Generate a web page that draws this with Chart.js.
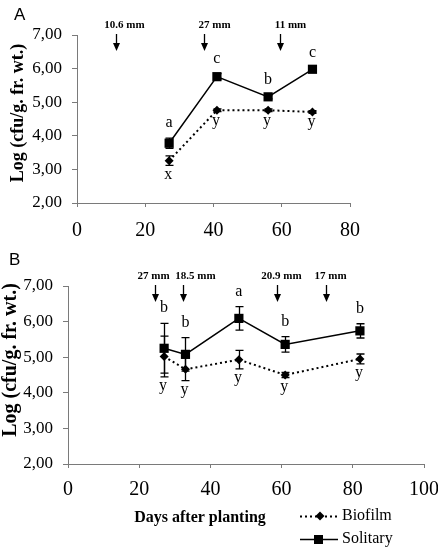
<!DOCTYPE html>
<html><head><meta charset="utf-8">
<script src="https://cdn.jsdelivr.net/npm/chart.js@4/dist/chart.umd.min.js"></script>
<style>
html,body{margin:0;padding:0;background:#fff;}
#wrap{position:relative;width:438px;height:550px;overflow:hidden;background:#fff;}
canvas{position:absolute;left:0;}
</style></head><body>
<div id="wrap">
<canvas id="cA" width="438" height="250" style="top:0px"></canvas>
<canvas id="cB" width="438" height="300" style="top:250px"></canvas>
</div>
<script>
// ---------- Panel A data ----------
const daysA = [27, 41, 56, 69];
const solitaryA = [3.78, 5.76, 5.16, 5.98];
const solitaryErrA = [0.15, 0.09, 0.06, 0.05];
const biofilmA = [3.26, 4.76, 4.76, 4.71];
const biofilmErrA = [0.14, 0.04, 0.04, 0.04];
const lettersSolA = ['a', 'c', 'b', 'c'];
const lettersBioA = ['x', 'y', 'y', 'y'];
const arrowDaysA = [11.4, 37.3, 59.5];
const arrowLabelsA = ['10.6 mm', '27 mm', '11 mm'];
const xTicksA = [0, 20, 40, 60, 80];

// ---------- Panel B data ----------
const daysB = [27, 33, 48, 61, 82];
const solitaryB = [5.25, 5.08, 6.09, 5.36, 5.74];
const solitaryErrB = [0.70, 0.47, 0.33, 0.22, 0.20];
const biofilmB = [5.02, 4.66, 4.93, 4.50, 4.95];
const biofilmErrB = [0.57, 0.32, 0.26, 0.07, 0.14];
const lettersSolB = ['b', 'b', 'a', 'b', 'b'];
const lettersBioB = ['y', 'y', 'y', 'y', 'y'];
const arrowDaysB = [24.4, 32.2, 58.6, 72.5];
const arrowLabelsB = ['27 mm', '18.5 mm', '20.9 mm', '17 mm'];
const xTicksB = [0, 20, 40, 60, 80, 100];

// ---------- shared ----------
const yTickValues = [2, 3, 4, 5, 6, 7];
const yTickLabels = ['2,00', '3,00', '4,00', '5,00', '6,00', '7,00'];
const seriesNames = ['Biofilm', 'Solitary'];
const yTitle = 'Log (cfu/g. fr. wt.)';
const xTitle = 'Days after planting';

const SERIF = "'Liberation Serif','Times New Roman',serif";
const SANS = "'Liberation Sans',Arial,sans-serif";
const AXIS = '#7a7a7a';

const pts = (xs, ys) => xs.map((x, i) => ({x: x, y: ys[i]}));

const decor = {
  id: 'decor',
  beforeDatasetsDraw(chart, args, o) {
    const ctx = chart.ctx, xs = chart.scales.x, ys = chart.scales.y;
    ctx.save();
    ctx.strokeStyle = '#000';
    ctx.lineWidth = 1.3;
    o.err.forEach(e => {
      e.days.forEach((d, i) => {
        const px = Math.round(xs.getPixelForValue(d)) + 0.5;
        const t = ys.getPixelForValue(e.vals[i] + e.errs[i]);
        const b = ys.getPixelForValue(e.vals[i] - e.errs[i]);
        ctx.beginPath();
        ctx.moveTo(px, t); ctx.lineTo(px, b);
        ctx.moveTo(px - 4, t); ctx.lineTo(px + 4, t);
        ctx.moveTo(px - 4, b); ctx.lineTo(px + 4, b);
        ctx.stroke();
      });
    });
    ctx.restore();
  },
  afterDraw(chart, args, o) {
    const ctx = chart.ctx, xs = chart.scales.x, ys = chart.scales.y, area = chart.chartArea;
    ctx.save();
    ctx.fillStyle = '#000';
    ctx.strokeStyle = '#000';
    // significance letters
    ctx.font = '16px ' + SERIF;
    ctx.textAlign = 'center';
    o.above.days.forEach((d, i) => {
      const px = xs.getPixelForValue(d);
      const t = ys.getPixelForValue(o.above.vals[i] + o.above.errs[i]);
      ctx.textBaseline = 'alphabetic';
      ctx.fillText(o.above.letters[i], px, t - 11);
    });
    o.below.days.forEach((d, i) => {
      const px = xs.getPixelForValue(d);
      const b = ys.getPixelForValue(o.below.vals[i] - o.below.errs[i]);
      ctx.textBaseline = 'top';
      ctx.fillText(o.below.letters[i], px - 1, b + 1);
    });
    // arrows (irrigation events)
    o.arrows.days.forEach((d, i) => {
      const px = Math.round(xs.getPixelForValue(d)) + 0.5;
      const top = area.top - 1;
      ctx.lineWidth = 1.3;
      ctx.beginPath();
      ctx.moveTo(px, top); ctx.lineTo(px, top + 10); ctx.stroke();
      ctx.beginPath();
      ctx.moveTo(px - 3.5, top + 9); ctx.lineTo(px + 3.5, top + 9); ctx.lineTo(px, top + 17); ctx.closePath();
      ctx.fill();
      ctx.font = 'bold 11px ' + SERIF;
      ctx.textBaseline = 'middle';
      ctx.textAlign = 'center';
      ctx.fillText(o.arrows.labels[i], px + o.arrows.shift[i], area.top - 10);
    });
    // y title
    ctx.save();
    ctx.translate(o.yTitle.x, o.yTitle.y);
    ctx.rotate(-Math.PI / 2);
    ctx.font = 'bold ' + o.yTitle.size + 'px ' + SERIF;
    ctx.textAlign = 'center';
    ctx.textBaseline = 'middle';
    ctx.fillText(yTitle, 0, 0);
    ctx.restore();
    // panel letter
    ctx.font = o.panel.size + 'px ' + SANS;
    ctx.textAlign = 'left';
    ctx.textBaseline = 'alphabetic';
    ctx.fillText(o.panel.text, o.panel.x, o.panel.y);
    // x title and legend
    if (o.legend) {
      ctx.font = 'bold 16px ' + SERIF;
      ctx.textAlign = 'center';
      ctx.textBaseline = 'middle';
      ctx.fillText(xTitle, 200, 268);
      const dsets = chart.data.datasets;
      const rows = [266, 289];
      dsets.forEach((ds, i) => {
        const y = rows[i];
        ctx.save();
        ctx.strokeStyle = '#000';
        ctx.lineWidth = ds.borderWidth;
        ctx.setLineDash(ds.borderDash || []);
        ctx.beginPath(); ctx.moveTo(300, y + 0.5); ctx.lineTo(338, y + 0.5); ctx.stroke();
        ctx.setLineDash([]);
        ctx.fillStyle = '#000';
        if (ds.pointStyle === 'rectRot') {
          ctx.beginPath();
          ctx.moveTo(320, y - 4.5); ctx.lineTo(324.5, y); ctx.lineTo(320, y + 4.5); ctx.lineTo(315.5, y); ctx.closePath(); ctx.fill();
        } else {
          ctx.fillRect(314, y - 4, 9, 9);
        }
        ctx.font = '16px ' + SERIF;
        ctx.textAlign = 'left';
        ctx.textBaseline = 'middle';
        ctx.fillText(ds.label, 342, y);
        ctx.restore();
      });
    }
    ctx.restore();
  }
};

function makePanel(id, cfg) {
  return new Chart(document.getElementById(id), {
    type: 'line',
    data: {
      datasets: [
        {label: seriesNames[0], data: pts(cfg.days, cfg.bio), borderColor: '#000', backgroundColor: '#000',
         borderWidth: 2, borderDash: [2, 3], pointStyle: 'rectRot', pointRadius: 4.5, pointBorderWidth: 0, tension: 0},
        {label: seriesNames[1], data: pts(cfg.days, cfg.sol), borderColor: '#000', backgroundColor: '#000',
         borderWidth: 1.5, pointStyle: 'rect', pointRadius: 6.5, pointBorderWidth: 0, tension: 0}
      ]
    },
    options: {
      responsive: false,
      animation: false,
      devicePixelRatio: 1,
      layout: {padding: cfg.padding},
      plugins: {
        legend: {display: false},
        tooltip: {enabled: false},
        decor: {
          err: [{days: cfg.days, vals: cfg.bio, errs: cfg.bioErr}, {days: cfg.days, vals: cfg.sol, errs: cfg.solErr}],
          above: {days: cfg.days, vals: cfg.sol, errs: cfg.solErr, letters: cfg.lSol},
          below: {days: cfg.days, vals: cfg.bio, errs: cfg.bioErr, letters: cfg.lBio},
          arrows: {days: cfg.arrowDays, labels: cfg.arrowLabels, shift: cfg.labelShift},
          yTitle: cfg.yTitle,
          panel: cfg.panel,
          legend: cfg.legend
        }
      },
      scales: {
        x: {
          type: 'linear', min: cfg.xTicks[0], max: cfg.xTicks[cfg.xTicks.length - 1],
          afterBuildTicks: s => { s.ticks = cfg.xTicks.map(v => ({value: v})); },
          afterFit: s => { s.height = cfg.xH; s.paddingLeft = 0; s.paddingRight = 0; },
          ticks: {font: {family: SERIF, size: 20}, color: '#000', padding: cfg.xPad, maxRotation: 0, autoSkip: false},
          grid: {display: true, drawOnChartArea: false, drawTicks: true, tickLength: 4, color: AXIS},
          border: {display: true, color: AXIS, width: 1}
        },
        y: {
          type: 'linear', min: 2, max: 7,
          afterBuildTicks: s => { s.ticks = yTickValues.map(v => ({value: v})); },
          afterFit: s => { s.width = cfg.yW; s.paddingTop = 0; s.paddingBottom = 0; },
          ticks: {font: {family: SERIF, size: 17}, color: '#000', padding: 10,
                  callback: v => yTickLabels[yTickValues.indexOf(v)]},
          grid: {display: true, drawOnChartArea: false, drawTicks: true, tickLength: 5, color: AXIS},
          border: {display: true, color: AXIS, width: 1}
        }
      }
    },
    plugins: [decor]
  });
}

makePanel('cA', {
  days: daysA, sol: solitaryA, solErr: solitaryErrA, bio: biofilmA, bioErr: biofilmErrA,
  lSol: lettersSolA, lBio: lettersBioA, arrowDays: arrowDaysA, arrowLabels: arrowLabelsA, labelShift: [8, 10, 10],
  xTicks: xTicksA, padding: {top: 35, right: 88, left: 0, bottom: 0}, yW: 77, xH: 47, xPad: 12,
  yTitle: {x: 18, y: 113, size: 18}, panel: {text: 'A', x: 14, y: 20, size: 17}, legend: false
});

makePanel('cB', {
  days: daysB, sol: solitaryB, solErr: solitaryErrB, bio: biofilmB, bioErr: biofilmErrB,
  lSol: lettersSolB, lBio: lettersBioB, arrowDays: arrowDaysB, arrowLabels: arrowLabelsB, labelShift: [-2, 12, 4, 4],
  xTicks: xTicksB, padding: {top: 36, right: 14, left: 0, bottom: 0}, yW: 68, xH: 86, xPad: 10,
  yTitle: {x: 11, y: 110, size: 20}, panel: {text: 'B', x: 9, y: 15, size: 17}, legend: true
});
</script>
</body></html>
